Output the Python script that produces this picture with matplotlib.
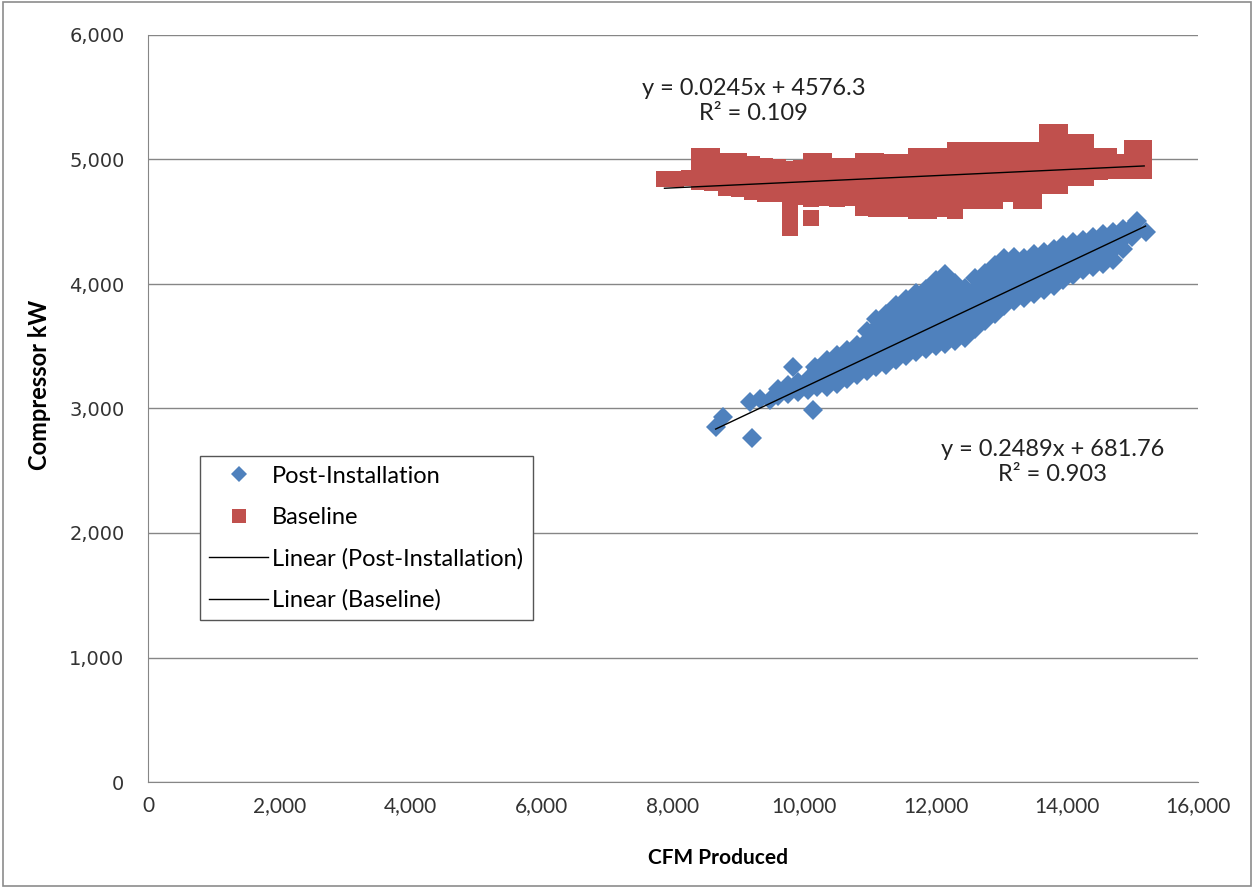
import matplotlib.pyplot as plt
from matplotlib.patches import Rectangle
from matplotlib.ticker import FuncFormatter

plt.rcParams['font.family'] = ['Lato', 'DejaVu Sans']

# Post-Installation points (CFM, kW)
post_pts = [
    (8650, 2850), (8760, 2930), (9200, 2760), (9170, 3050), (9325, 3080),
    (9480, 3070), (9830, 3330), (10130, 2990), (10160, 3330),
    (9600, 3100), (9600, 3160), (9750, 3120), (9750, 3190),
    (9900, 3130), (9900, 3210), (10050, 3150), (10050, 3240),
    (10200, 3170), (10200, 3250), (10200, 3320),
    (10350, 3170), (10350, 3250), (10350, 3330), (10350, 3390),
    (10500, 3200), (10500, 3280), (10500, 3360), (10500, 3430),
    (10650, 3240), (10650, 3320), (10650, 3400), (10650, 3470),
    (10800, 3270), (10800, 3350), (10800, 3430), (10800, 3510),
    (10950, 3300), (10950, 3380), (10950, 3460), (10950, 3540), (10950, 3620),
    (11100, 3330), (11100, 3410), (11100, 3490), (11100, 3570), (11100, 3650), (11100, 3720),
    (11250, 3350), (11250, 3430), (11250, 3510), (11250, 3590), (11250, 3670), (11250, 3760),
    (11400, 3390), (11400, 3470), (11400, 3550), (11400, 3630), (11400, 3710), (11400, 3790), (11400, 3830),
    (11550, 3420), (11550, 3500), (11550, 3580), (11550, 3660), (11550, 3740), (11550, 3820), (11550, 3880),
    (11700, 3450), (11700, 3530), (11700, 3610), (11700, 3690), (11700, 3770), (11700, 3850), (11700, 3930),
    (11850, 3480), (11850, 3560), (11850, 3640), (11850, 3720), (11850, 3800), (11850, 3880), (11850, 3960),
    (12000, 3500), (12000, 3580), (12000, 3660), (12000, 3740), (12000, 3820), (12000, 3900), (12000, 3980), (12000, 4030),
    (12150, 3520), (12150, 3600), (12150, 3680), (12150, 3760), (12150, 3840), (12150, 3920), (12150, 4000), (12150, 4080),
    (12300, 3540), (12300, 3620), (12300, 3700), (12300, 3780), (12300, 3860), (12300, 3940), (12300, 4010),
    (12450, 3570), (12450, 3650), (12450, 3730), (12450, 3810), (12450, 3890), (12450, 3970),
    (12600, 3640), (12600, 3720), (12600, 3800), (12600, 3880), (12600, 3960), (12600, 4050),
    (12750, 3700), (12750, 3780), (12750, 3860), (12750, 3940), (12750, 4020), (12750, 4090),
    (12900, 3760), (12900, 3840), (12900, 3920), (12900, 4000), (12900, 4080), (12900, 4150),
    (13050, 3820), (13050, 3900), (13050, 3980), (13050, 4060), (13050, 4140), (13050, 4210),
    (13200, 3860), (13200, 3940), (13200, 4020), (13200, 4100), (13200, 4180), (13200, 4220),
    (13350, 3890), (13350, 3970), (13350, 4050), (13350, 4130), (13350, 4210),
    (13500, 3920), (13500, 4000), (13500, 4080), (13500, 4160), (13500, 4240),
    (13650, 3950), (13650, 4030), (13650, 4110), (13650, 4190), (13650, 4260),
    (13800, 3980), (13800, 4060), (13800, 4140), (13800, 4220), (13800, 4280),
    (13950, 4030), (13950, 4110), (13950, 4190), (13950, 4270), (13950, 4310),
    (14100, 4070), (14100, 4150), (14100, 4230), (14100, 4310), (14100, 4340),
    (14250, 4110), (14250, 4190), (14250, 4270), (14250, 4350),
    (14400, 4140), (14400, 4220), (14400, 4300), (14400, 4380),
    (14550, 4160), (14550, 4240), (14550, 4320), (14550, 4400),
    (14700, 4190), (14700, 4270), (14700, 4350), (14700, 4420),
    (14850, 4280), (14850, 4360), (14850, 4440),
    (15000, 4380), (15000, 4460), (15070, 4510), (15200, 4420),
]

# Baseline points (CFM, kW)
base_pts = [
    (7870, 4840), (8050, 4845), (8250, 4850),
    (8400, 4820), (8400, 4900), (8400, 5030),
    (8600, 4810), (8600, 4920), (8600, 5030),
    (8800, 4770), (8800, 4880), (8800, 4990),
    (9000, 4760), (9000, 4870), (9000, 4990),
    (9200, 4740), (9200, 4850), (9200, 4960),
    (9400, 4720), (9400, 4830), (9400, 4950),
    (9600, 4720), (9600, 4830), (9600, 4940),
    (9780, 4450), (9780, 4560), (9780, 4690), (9780, 4800), (9780, 4920),
    (9950, 4700), (9950, 4810), (9950, 4930),
    (10100, 4530), (10100, 4680), (10100, 4790), (10100, 4900), (10100, 4990),
    (10300, 4690), (10300, 4800), (10300, 4910), (10300, 4990),
    (10500, 4680), (10500, 4790), (10500, 4900), (10500, 4950),
    (10700, 4690), (10700, 4800), (10700, 4900), (10700, 4950),
    (10900, 4610), (10900, 4720), (10900, 4830), (10900, 4940), (10900, 4990),
    (11100, 4600), (11100, 4710), (11100, 4820), (11100, 4930), (11100, 4990),
    (11300, 4600), (11300, 4710), (11300, 4820), (11300, 4930), (11300, 4980),
    (11500, 4600), (11500, 4710), (11500, 4820), (11500, 4930), (11500, 4980),
    (11700, 4590), (11700, 4700), (11700, 4810), (11700, 4920), (11700, 5030),
    (11900, 4590), (11900, 4700), (11900, 4810), (11900, 4920), (11900, 5030),
    (12100, 4600), (12100, 4710), (12100, 4820), (12100, 4930), (12100, 5030),
    (12300, 4590), (12300, 4700), (12300, 4810), (12300, 4920), (12300, 5030), (12300, 5080),
    (12500, 4670), (12500, 4780), (12500, 4890), (12500, 5000), (12500, 5080),
    (12700, 4670), (12700, 4780), (12700, 4890), (12700, 5000), (12700, 5080),
    (12900, 4670), (12900, 4780), (12900, 4890), (12900, 5000), (12900, 5080),
    (13100, 4720), (13100, 4830), (13100, 4940), (13100, 5050), (13100, 5080),
    (13300, 4670), (13300, 4780), (13300, 4890), (13300, 5000), (13300, 5080),
    (13500, 4670), (13500, 4780), (13500, 4890), (13500, 5000), (13500, 5080),
    (13700, 4790), (13700, 4900), (13700, 5010), (13700, 5120), (13700, 5220),
    (13900, 4790), (13900, 4900), (13900, 5010), (13900, 5120), (13900, 5220),
    (14100, 4850), (14100, 4960), (14100, 5070), (14100, 5140),
    (14300, 4850), (14300, 4960), (14300, 5070), (14300, 5140),
    (14500, 4900), (14500, 5030), (14650, 4910), (14650, 5030),
    (14850, 4910), (14850, 4980),
    (15000, 4910), (15000, 5000), (15000, 5090),
    (15180, 4910), (15180, 5000), (15180, 5090),
]

# trendline coefficients shown on the chart
post_fit = (0.2489, 681.76, 0.903)
base_fit = (0.0245, 4576.3, 0.109)

post_x, post_y = zip(*post_pts)
base_x, base_y = zip(*base_pts)

blue = '#4F81BD'
red = '#C0504D'
grey = '#868686'

fig = plt.figure(figsize=(12.54, 8.88), dpi=100)
ax = fig.add_axes([148 / 1254, 106 / 888, 1050 / 1254, 747 / 888])

ax.plot(post_x, post_y, 'D', color=blue, ms=10, mew=0, label='Post-Installation', zorder=3)
ax.plot(base_x, base_y, 's', color=red, ms=12, mew=0, label='Baseline', zorder=2)

# trendlines over each series' x range
for xs, (m, b, r2), lab in [(post_x, post_fit, 'Linear (Post-Installation)'),
                            (base_x, base_fit, 'Linear (Baseline)')]:
    x0, x1 = min(xs), max(xs)
    ax.plot([x0, x1], [m * x0 + b, m * x1 + b], color='black', lw=1, label=lab, zorder=4)

ax.text(9230, 5470, 'y = %.4fx + %.1f\nR² = %.3f' % base_fit, ha='center', va='center',
        fontsize=17, color='#222222', linespacing=1.2)
ax.text(13790, 2570, 'y = %.4fx + %.2f\nR² = %.3f' % post_fit, ha='center', va='center',
        fontsize=17, color='#222222', linespacing=1.2)

ax.set_xlim(0, 16000)
ax.set_ylim(0, 6000)
ax.set_xticks(range(0, 16001, 2000))
ax.set_yticks(range(0, 6001, 1000))
fmt = FuncFormatter(lambda v, p: '{:,.0f}'.format(v))
ax.xaxis.set_major_formatter(fmt)
ax.yaxis.set_major_formatter(fmt)
ax.tick_params(length=0, labelcolor='#333333')
ax.tick_params(axis='y', pad=17, labelsize=14, labelfontfamily='DejaVu Sans')
ax.tick_params(axis='x', pad=10, labelsize=15)
ax.grid(axis='y', color=grey, lw=1)
ax.set_axisbelow(True)
for s in ['top', 'right']:
    ax.spines[s].set_visible(False)
for s in ['left', 'bottom']:
    ax.spines[s].set_color(grey)

ax.set_xlabel('CFM Produced', fontsize=15, fontweight='bold')
ax.set_ylabel('Compressor kW', fontsize=17, fontweight='bold')
ax.xaxis.set_label_coords(0.543, -0.102)
ax.yaxis.set_label_coords(-0.103, 0.531)
ax.xaxis.label.set_va('center')
ax.yaxis.label.set_va('center')

leg = ax.legend(loc='upper left', bbox_to_anchor=(0.0495, 0.436), borderaxespad=0,
                fontsize=17, frameon=True, fancybox=False, edgecolor='#555555',
                framealpha=1, labelspacing=0.85, handlelength=2.5, handletextpad=0.15,
                borderpad=0.4, markerscale=0.85)
leg.get_frame().set_linewidth(1)

fig.patches.append(Rectangle((0.002, 0.002), 0.996, 0.996, transform=fig.transFigure,
                             fill=False, edgecolor='#8c8c8c', lw=1.2))

fig.savefig('out.png', dpi=100)
